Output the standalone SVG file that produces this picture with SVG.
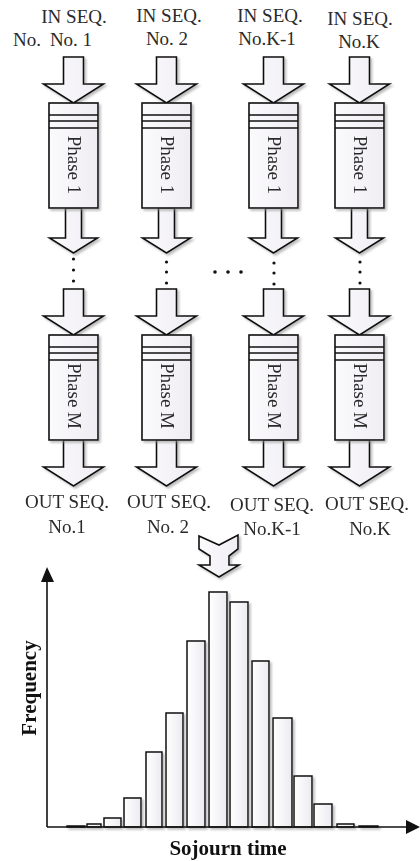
<svg xmlns="http://www.w3.org/2000/svg" xmlns:xlink="http://www.w3.org/1999/xlink" width="420" height="861" viewBox="0 0 420 861">
<style>
.lbl{font-family:"Liberation Serif","Times New Roman",serif;font-size:19px;fill:#2a2a2a;text-anchor:middle}
.ph{font-family:"Liberation Serif","Times New Roman",serif;font-size:19px;fill:#2a2a2a;text-anchor:middle}
.ax{font-family:"Liberation Serif","Times New Roman",serif;font-size:21px;font-weight:bold;fill:#111;text-anchor:middle}
.shape{fill:url(#lav);stroke:#111;stroke-width:1.6;stroke-linejoin:miter}
.bar{fill:url(#barg);stroke:#111;stroke-width:1.5}
.hl{stroke:#111;stroke-width:1.6}
.dot{fill:#111}
</style>
<defs>
<linearGradient id="lav" x1="0" y1="0" x2="1" y2="0">
<stop offset="0" stop-color="#fbfafc"/><stop offset="1" stop-color="#efedf3"/>
</linearGradient>
<linearGradient id="barg" x1="0" y1="0" x2="1" y2="0">
<stop offset="0" stop-color="#ffffff"/><stop offset="1" stop-color="#eceaf0"/>
</linearGradient>
<filter id="sh" x="-20%" y="-20%" width="150%" height="150%">
<feDropShadow dx="2" dy="2" stdDeviation="1.2" flood-color="#888" flood-opacity="0.55"/>
</filter>
<path id="bigArrow" class="shape" d="M-10,-46 L10,-46 L10,-19 L30,-19 L0,0 L-30,-19 L-10,-19 Z"/>
<path id="smallArrow" class="shape" d="M-8,-45 L8,-45 L8,-15 L24,-15 L0,0 L-24,-15 L-8,-15 Z"/>
<g id="phaseBox">
<rect class="shape" x="-24.5" y="0" width="49" height="105"/>
<line class="hl" x1="-24.5" y1="12" x2="24.5" y2="12"/>
<line class="hl" x1="-24.5" y1="18" x2="24.5" y2="18"/>
<line class="hl" x1="-24.5" y1="25" x2="24.5" y2="25"/>
</g>
</defs>
<rect width="420" height="861" fill="#fff"/>

<g id="labels-in">
<text class="lbl" x="74" y="23">IN SEQ.</text>
<text class="lbl" x="71" y="46">No. 1</text>
<text class="lbl" x="27" y="46">No.</text>
<text class="lbl" x="169" y="22">IN SEQ.</text>
<text class="lbl" x="167" y="45">No. 2</text>
<text class="lbl" x="270" y="22">IN SEQ.</text>
<text class="lbl" x="267" y="45">No.K-1</text>
<text class="lbl" x="360" y="25">IN SEQ.</text>
<text class="lbl" x="359" y="48">No.K</text>
</g>

<g id="connectors" filter="url(#sh)">
<use href="#bigArrow" x="73.5" y="103"/>
<use href="#bigArrow" x="166.5" y="103"/>
<use href="#bigArrow" x="273.5" y="103"/>
<use href="#bigArrow" x="359.5" y="103"/>
<use href="#smallArrow" x="73.5" y="253"/>
<use href="#smallArrow" x="166.5" y="253"/>
<use href="#smallArrow" x="273.5" y="253"/>
<use href="#smallArrow" x="359.5" y="253"/>
<use href="#bigArrow" x="73.5" y="335"/>
<use href="#bigArrow" x="166.5" y="335"/>
<use href="#bigArrow" x="273.5" y="335"/>
<use href="#bigArrow" x="359.5" y="335"/>
<use href="#bigArrow" x="73.5" y="486"/>
<use href="#bigArrow" x="166.5" y="486"/>
<use href="#bigArrow" x="273.5" y="486"/>
<use href="#bigArrow" x="359.5" y="486"/>
<path id="merge" class="shape" d="M199,536 L219,545 L238,535 L238,549 L229,556 L229,565 L239,565 L219,577 L199,565 L210,565 L210,556 L199,549 Z"/>
</g>

<g id="dots">
<circle class="dot" cx="73.5" cy="259" r="1.6"/><circle class="dot" cx="73.5" cy="270" r="1.6"/><circle class="dot" cx="73.5" cy="281" r="1.6"/>
<circle class="dot" cx="166.5" cy="262" r="1.6"/><circle class="dot" cx="166.5" cy="272" r="1.6"/><circle class="dot" cx="166.5" cy="283" r="1.6"/>
<circle class="dot" cx="274" cy="263" r="1.6"/><circle class="dot" cx="274" cy="273" r="1.6"/><circle class="dot" cx="274" cy="284" r="1.6"/>
<circle class="dot" cx="360" cy="262" r="1.6"/><circle class="dot" cx="360" cy="272" r="1.6"/><circle class="dot" cx="360" cy="283" r="1.6"/>
<circle class="dot" cx="215" cy="272" r="1.8"/><circle class="dot" cx="228" cy="272" r="1.8"/><circle class="dot" cx="241" cy="272" r="1.8"/>
</g>

<g id="phase1-col1" filter="url(#sh)"><use href="#phaseBox" x="73.5" y="103"/></g>
<g id="phase1-col2" filter="url(#sh)"><use href="#phaseBox" x="166.5" y="103"/></g>
<g id="phase1-col3" filter="url(#sh)"><use href="#phaseBox" x="273.5" y="103"/></g>
<g id="phase1-col4" filter="url(#sh)"><use href="#phaseBox" x="359.5" y="103"/></g>
<g id="phaseM-col1" filter="url(#sh)"><use href="#phaseBox" x="73.5" y="335"/></g>
<g id="phaseM-col2" filter="url(#sh)"><use href="#phaseBox" x="166.5" y="335"/></g>
<g id="phaseM-col3" filter="url(#sh)"><use href="#phaseBox" x="273.5" y="335"/></g>
<g id="phaseM-col4" filter="url(#sh)"><use href="#phaseBox" x="359.5" y="335"/></g>

<g id="phase-texts">
<text class="ph" transform="translate(73.5,165) rotate(90)" x="0" y="6">Phase 1</text>
<text class="ph" transform="translate(166.5,165) rotate(90)" x="0" y="6">Phase 1</text>
<text class="ph" transform="translate(273.5,165) rotate(90)" x="0" y="6">Phase 1</text>
<text class="ph" transform="translate(359.5,165) rotate(90)" x="0" y="6">Phase 1</text>
<text class="ph" transform="translate(73.5,396) rotate(90)" x="0" y="6">Phase M</text>
<text class="ph" transform="translate(166.5,396) rotate(90)" x="0" y="6">Phase M</text>
<text class="ph" transform="translate(273.5,396) rotate(90)" x="0" y="6">Phase M</text>
<text class="ph" transform="translate(359.5,396) rotate(90)" x="0" y="6">Phase M</text>
</g>

<g id="labels-out">
<text class="lbl" x="67" y="508">OUT SEQ.</text>
<text class="lbl" x="67" y="533">No.1</text>
<text class="lbl" x="169" y="508">OUT SEQ.</text>
<text class="lbl" x="168" y="533">No. 2</text>
<text class="lbl" x="272" y="511">OUT SEQ.</text>
<text class="lbl" x="272" y="535">No.K-1</text>
<text class="lbl" x="367" y="510">OUT SEQ.</text>
<text class="lbl" x="370" y="535">No.K</text>
</g>

<g id="histogram">
<g filter="url(#sh)">
<rect class="bar" x="67" y="826" width="18" height="1"/>
<rect class="bar" x="87" y="824" width="14" height="3"/>
<rect class="bar" x="104" y="818" width="17" height="9"/>
<rect class="bar" x="124" y="798" width="17" height="29"/>
<rect class="bar" x="146" y="752" width="16" height="75"/>
<rect class="bar" x="166" y="713" width="17" height="114"/>
<rect class="bar" x="187" y="641" width="18" height="186"/>
<rect class="bar" x="209" y="592" width="18" height="235"/>
<rect class="bar" x="230" y="602" width="18" height="225"/>
<rect class="bar" x="252" y="661" width="17" height="166"/>
<rect class="bar" x="273" y="718" width="19" height="109"/>
<rect class="bar" x="294" y="776" width="18" height="51"/>
<rect class="bar" x="314" y="804" width="18" height="23"/>
<rect class="bar" x="337" y="824" width="17" height="3"/>
<rect class="bar" x="359" y="826" width="19" height="1"/>
</g>
<line x1="47" y1="827" x2="47" y2="580" stroke="#111" stroke-width="1.6"/>
<path d="M47,567 L41,582 L54,582 Z" fill="#111"/>
<line x1="47" y1="827" x2="408" y2="827" stroke="#111" stroke-width="1.6"/>
<path d="M420,827 L406,820 L406,834 Z" fill="#111"/>
<text class="ax" transform="translate(29,688) rotate(-90)" x="0" y="7">Frequency</text>
<text class="ax" x="228" y="855">Sojourn time</text>
</g>
</svg>
